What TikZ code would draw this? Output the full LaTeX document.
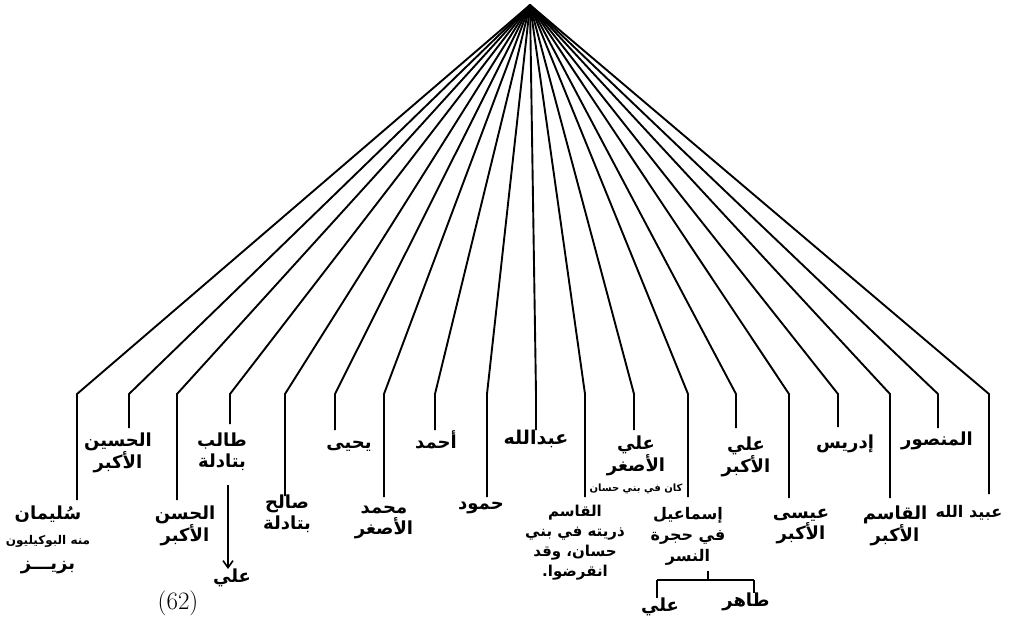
\documentclass[tikz,border=0pt]{standalone}
\usepackage{fontspec}
\newfontfamily\arabicfont[Script=Arabic]{DejaVu Sans}
\TeXXeTstate=1
\usetikzlibrary{arrows.meta}
\newcommand\arl[1]{\beginR #1\endR}
\newcommand\arsm[1]{{\fontsize{12}{14}\selectfont\beginR #1\endR}}
\begin{document}
\begin{tikzpicture}[x=1pt,y=-1pt,
  branch/.style={line width=1.9pt, line join=round},
  thin branch/.style={line width=1.6pt},
  lbl/.style={font=\arabicfont\bfseries\fontsize{18}{21}\selectfont, align=center, inner sep=0pt},
  num/.style={font=\fontsize{25}{27}\selectfont, inner sep=0pt},
]
\useasboundingbox (0,0) rectangle (1009,628);
\coordinate (root) at (530,5);
\foreach \i/\x/\e in {1/77/500, 2/129/428, 3/177/500, 4/230/424, 5/285/496,
  6/335/430, 7/384/497, 8/435/430, 9/487/497, 10/536/430, 11/585/497,
  12/634/430, 13/688/497, 14/736/428, 15/789/498, 16/838/427, 17/890/498,
  18/938/428, 19/989/494} {
  \coordinate (b\i) at (\x,394);
  \coordinate (e\i) at (\x,\e);
  \draw[branch] (root) -- (b\i) -- (e\i);
}
% labels
\node[lbl, font=\arabicfont\bfseries\fontsize{18}{25}\selectfont] (n1) at (48,540) {\arl{سُليمان}\\\arsm{منه البوكيليون}\\\arl{بزيـــز}};
\node[lbl] (n2) at (118,453) {\arl{الحسين}\\\arl{الأكبر}};
\node[lbl] (n3) at (185,526) {\arl{الحسن}\\\arl{الأكبر}};
\node[lbl] (n4) at (222,452) {\arl{طالب}\\\arl{بتادلة}};
\node[lbl] (n5) at (287,514) {\arl{صالح}\\\arl{بتادلة}};
\node[lbl] (n6) at (349,446) {\arl{يحيى}};
\node[lbl] (n7) at (436,440) {\arl{أحمد}};
\node[lbl] (n8) at (384,522) {\arl{محمد}\\\arl{الأصغر}};
\node[lbl] (n9) at (481,508) {\arl{حمود}};
\node[lbl, font=\arabicfont\bfseries\fontsize{19}{21}\selectfont] (n10) at (536,439) {\arl{عبدالله}};
\node[lbl, font=\arabicfont\bfseries\fontsize{15}{20}\selectfont] (n11) at (575,543) {\arl{القاسم}\\\arl{ذريته في بني}\\\arl{حسان، وقد}\\\arl{انقرضوا.}};
\node[lbl, font=\arabicfont\bfseries\fontsize{18}{20}\selectfont] (n12) at (636,465) {\arl{علي}\\\arl{الأصغر}\\{\fontsize{10}{12}\selectfont\arl{كان في بني حسان}}};
\node[lbl, font=\arabicfont\bfseries\fontsize{16}{21}\selectfont] (n13) at (688,536) {\arl{إسماعيل}\\\arl{في حجرة}\\\arl{النسر}};
\node[lbl] (n14) at (746,457) {\arl{علي}\\\arl{الأكبر}};
\node[lbl] (n15) at (801,527) {\arl{عيسى}\\\arl{الأكبر}};
\node[lbl] (n16) at (845,444) {\arl{إدريس}};
\node[lbl] (n17) at (895,526) {\arl{القاسم}\\\arl{الأكبر}};
\node[lbl] (n18) at (937,441) {\arl{المنصور}};
\node[lbl, font=\arabicfont\bfseries\fontsize{16}{20}\selectfont] (n19) at (969,513) {\arl{عبيد الله}};
% arrow under Talib
\coordinate (a0) at (228,485);
\node[lbl, anchor=north] (n20) at (232,569) {\arl{علي}};
\node[num] (n21) at (178,603) {(62)};
\draw[thin branch, -{Straight Barb[length=7pt,width=10pt]}] (a0) -- (a0 |- n20.north);
% bracket under Ismail
\coordinate (bt) at (708,571);
\coordinate (bm) at (708,580);
\coordinate (bl) at (657,580);
\coordinate (br) at (754,580);
\node[lbl, anchor=north] (n22) at (660,598) {\arl{علي}};
\node[lbl, anchor=north] (n23) at (746,593) {\arl{طاهر}};
\draw[thin branch] (bt) -- (bm);
\draw[thin branch] (bl) -- (br);
\draw[thin branch] (bl) -- (bl |- n22.north);
\draw[thin branch] (br) -- (br |- n23.north);
\end{tikzpicture}
\end{document}
